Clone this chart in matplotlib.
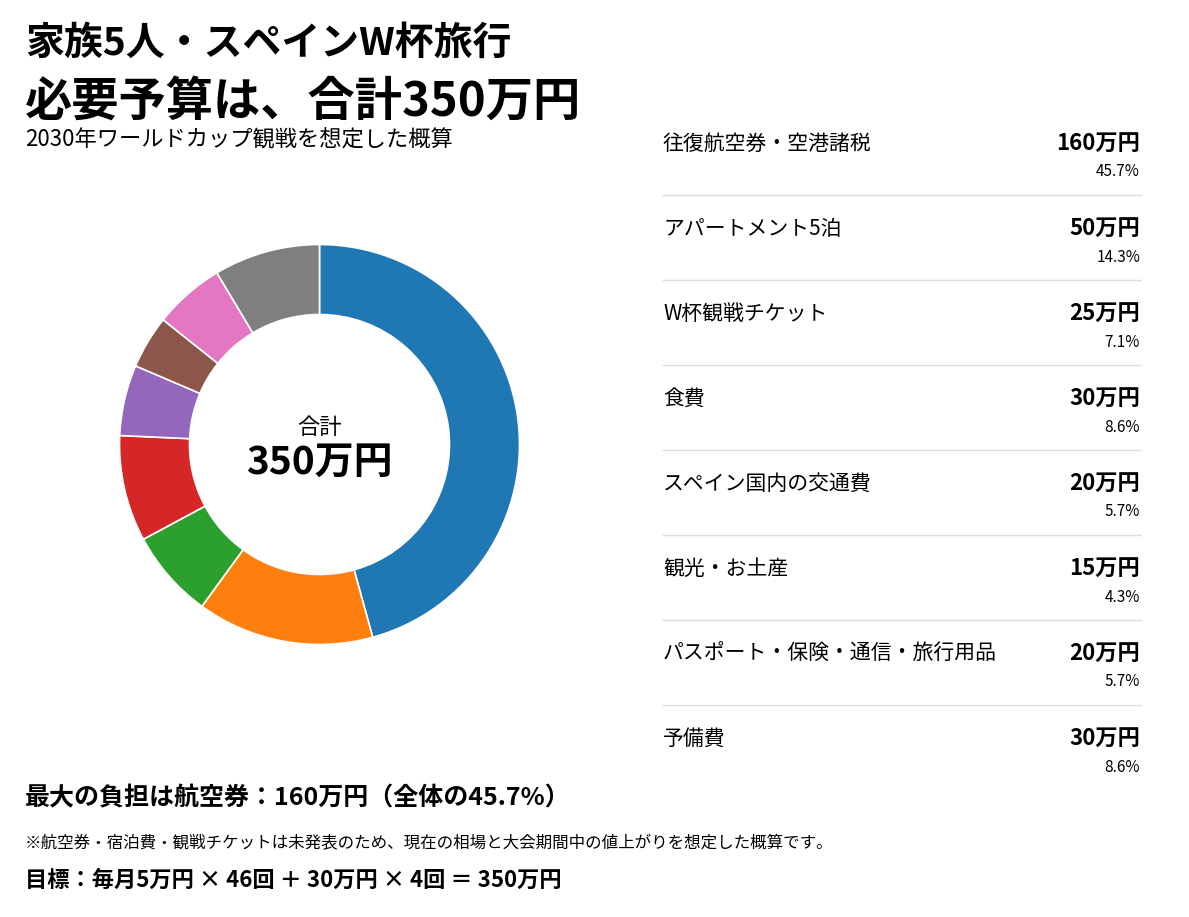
import matplotlib
matplotlib.use("Agg")
import matplotlib.pyplot as plt
from matplotlib.lines import Line2D

plt.rcParams['font.family'] = ['Noto Sans CJK JP', 'DejaVu Sans']

# data
items = ['往復航空券・空港諸税', 'アパートメント5泊', 'W杯観戦チケット', '食費',
         'スペイン国内の交通費', '観光・お土産', 'パスポート・保険・通信・旅行用品', '予備費']
costs = [160, 50, 25, 30, 20, 15, 20, 30]
colors = ['#1f77b4', '#ff7f0e', '#2ca02c', '#d62728',
          '#9467bd', '#8c564b', '#e377c2', '#7f7f7f']
total = sum(costs)

W, H = 1189, 917
fig = plt.figure(figsize=(W / 100, H / 100), dpi=100)


def px(x, y):
    return x / W, 1 - y / H


# donut
cx, cy, r = 319.5, 444.5, 200
ax = fig.add_axes([(cx - r) / W, (H - cy - r) / H, 2 * r / W, 2 * r / H])
ax.pie(costs, colors=colors, startangle=90, counterclock=False, radius=1,
       wedgeprops=dict(width=0.35, edgecolor='white', linewidth=1.2))
ax.set_xlim(-1, 1)
ax.set_ylim(-1, 1)
ax.axis('off')
ax.text(0, 0.085, '合計', ha='center', va='center', fontsize=16)
ax.text(0, -0.09, f'{total}万円', ha='center', va='center', fontsize=28, fontweight='bold')

# titles
fig.text(*px(25, 43), '家族5人・スペインW杯旅行', fontsize=28, fontweight='bold', va='center')
fig.text(*px(25, 102), f'必要予算は、合計{total}万円', fontsize=34, fontweight='bold', va='center')
fig.text(*px(25, 140), '2030年ワールドカップ観戦を想定した概算', fontsize=16, va='center')

# breakdown table
for i, (name, c) in enumerate(zip(items, costs)):
    y0 = 144 + 85 * i
    fig.text(*px(663, y0), name, fontsize=15, va='center')
    fig.text(*px(1140, y0), f'{c}万円', fontsize=16, fontweight='bold', va='center', ha='right')
    fig.text(*px(1140, y0 + 28), f'{c / total * 100:.1f}%', fontsize=11, va='center', ha='right')
    if i < len(items) - 1:
        yl = 1 - (195 + 85 * i) / H
        fig.add_artist(Line2D([663 / W, 1141 / W], [yl, yl], color='#dddddd', lw=1))

# footer
top = costs.index(max(costs))
fig.text(*px(25, 798), f'最大の負担は航空券：{costs[top]}万円（全体の{costs[top] / total * 100:.1f}%）',
         fontsize=18, fontweight='bold', va='center')
fig.text(*px(25, 844), '※航空券・宿泊費・観戦チケットは未発表のため、現在の相場と大会期間中の値上がりを想定した概算です。',
         fontsize=11.9, va='center')
fig.text(*px(25, 880), '目標：毎月5万円 × 46回 ＋ 30万円 × 4回 ＝ 350万円',
         fontsize=16, fontweight='bold', va='center')

fig.savefig('out.png', dpi=100, facecolor='white')
